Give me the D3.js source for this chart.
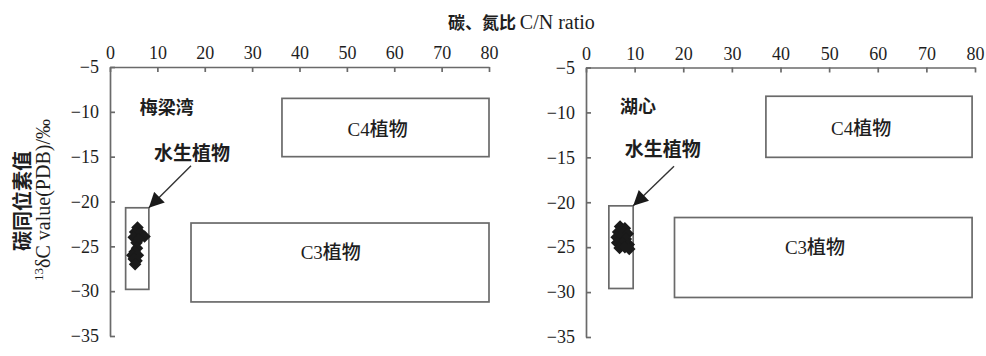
<!DOCTYPE html>
<html>
<head>
<meta charset="utf-8">
<script src="https://cdn.jsdelivr.net/npm/d3@7"></script>
<style>
  html, body { margin: 0; padding: 0; background: #fff; }
  svg { display: block; }
</style>
</head>
<body>
<svg id="chart" width="986" height="356"></svg>
<script>
// ---- data ----
const xTicks = [0, 10, 20, 30, 40, 50, 60, 70, 80];
const yTicks = [-5, -10, -15, -20, -25, -30, -35];
const panelNames = ["梅梁湾", "湖心"];

// source boxes: [C/N min, C/N max, δ13C max, δ13C min]
const c4BoxMeiliang = [36.3, 80, -8.5, -15];
const c3BoxMeiliang = [17.1, 80, -22.4, -31.2];
const aqBoxMeiliang = [3.3, 8.2, -20.7, -29.8];
const c4BoxHuxin = [37, 79.4, -8.2, -15];
const c3BoxHuxin = [18.2, 79.4, -21.7, -30.6];
const aqBoxHuxin = [4.7, 9.7, -20.4, -29.6];

// samples: [C/N, δ13C]
const samplesMeiliang = [
  [5.8, -22.9], [5.3, -23.4], [6.4, -23.5], [7.3, -23.9], [5.0, -24.0],
  [6.1, -24.2], [5.6, -24.6], [5.7, -25.2], [5.2, -25.6], [4.7, -26.0],
  [5.9, -26.0], [5.0, -26.4], [5.6, -26.6], [5.3, -27.0]
];
const samplesHuxin = [
  [7.0, -22.7], [8.0, -22.9], [6.6, -23.3], [7.6, -23.4], [8.6, -23.5],
  [6.3, -23.9], [7.2, -24.0], [8.2, -24.1], [6.4, -24.5], [7.5, -24.6],
  [8.8, -24.7], [6.9, -25.1], [8.0, -25.0], [8.9, -25.2]
];

// ---- layout ----
const panels = [
  {
    name: panelNames[0], x0: 110, x1: 489, y0: 67, y1: 336,
    c4: c4BoxMeiliang, c3: c3BoxMeiliang, aq: aqBoxMeiliang, pts: samplesMeiliang,
    nameAt: [6.3, -9.5], c4At: [56.5, -11.9], c3At: [46.6, -25.7],
    aqLabelAt: [17.3, -14.6], arrowFrom: [17.1, -16.0]
  },
  {
    name: panelNames[1], x0: 586, x1: 975, y0: 67.5, y1: 337,
    c4: c4BoxHuxin, c3: c3BoxHuxin, aq: aqBoxHuxin, pts: samplesHuxin,
    nameAt: [7.0, -9.4], c4At: [56.6, -11.75], c3At: [47.1, -25.0],
    aqLabelAt: [15.8, -14.1], arrowFrom: [18.1, -16.0]
  }
];

const svg = d3.select("#chart");
const lineColor = "#6a6a6a";
const serif = "'Liberation Serif', 'DejaVu Serif', serif";
const cjk = "'Noto Sans CJK SC', sans-serif";

svg.append("defs").append("marker")
  .attr("id", "arrowhead")
  .attr("viewBox", "0 0 10 10")
  .attr("refX", 10).attr("refY", 5)
  .attr("markerWidth", 17).attr("markerHeight", 15)
  .attr("markerUnits", "userSpaceOnUse")
  .attr("orient", "auto")
  .append("path")
  .attr("d", "M0,0 L10,5 L0,10 Z")
  .attr("fill", "#1a1a1a");

const diamond = d3.symbol().type(d3.symbolDiamond2 || d3.symbolSquare).size(100);

panels.forEach(p => {
  const x = d3.scaleLinear().domain([0, 80]).range([p.x0, p.x1]);
  const y = d3.scaleLinear().domain([-5, -35]).range([p.y0, p.y1]);
  const g = svg.append("g");

  // axes: C/N on top, δ13C on the left, ticks pointing inward
  const xAxis = g.append("g")
    .attr("transform", `translate(0,${p.y0})`)
    .call(d3.axisTop(x).tickValues(xTicks).tickSize(-5).tickSizeOuter(0).tickPadding(8));
  const yAxis = g.append("g")
    .attr("transform", `translate(${p.x0},0)`)
    .call(d3.axisLeft(y).tickValues(yTicks).tickSize(-5).tickSizeOuter(0).tickPadding(11));
  [xAxis, yAxis].forEach(a => {
    a.selectAll("path, line").attr("stroke", lineColor).attr("stroke-width", 1.7);
    a.selectAll("text").attr("fill", "#1e1e1e").style("font-family", serif).style("font-size", "18px");
  });

  // source ranges
  [p.c4, p.c3, p.aq].forEach(b => {
    g.append("rect")
      .attr("x", x(b[0])).attr("y", y(b[2]))
      .attr("width", x(b[1]) - x(b[0])).attr("height", y(b[3]) - y(b[2]))
      .attr("fill", "none").attr("stroke", lineColor).attr("stroke-width", 1.7);
  });

  // samples
  g.append("g").selectAll("path").data(p.pts).join("path")
    .attr("transform", d => `translate(${x(d[0])},${y(d[1])})`)
    .attr("d", diamond)
    .attr("fill", "#1a1a1a");

  // labels
  g.append("text")
    .attr("x", x(p.nameAt[0])).attr("y", y(p.nameAt[1]))
    .attr("dy", "0.35em")
    .style("font-family", cjk).style("font-weight", 700).style("font-size", "18px")
    .attr("fill", "#1e1e1e").text(p.name);

  [[p.c4At, "C4"], [p.c3At, "C3"]].forEach(([at, tag]) => {
    const t = g.append("text")
      .attr("x", x(at[0])).attr("y", y(at[1]))
      .attr("dy", "0.35em").attr("text-anchor", "middle").attr("fill", "#1e1e1e")
      .style("font-size", "19px");
    t.append("tspan").style("font-family", serif).text(tag);
    t.append("tspan").style("font-family", cjk).style("font-weight", 500).text("植物");
  });

  g.append("text")
    .attr("x", x(p.aqLabelAt[0])).attr("y", y(p.aqLabelAt[1]))
    .attr("dy", "0.35em").attr("text-anchor", "middle")
    .style("font-family", cjk).style("font-weight", 700).style("font-size", "19px")
    .attr("fill", "#1e1e1e").text("水生植物");

  g.append("line")
    .attr("x1", x(p.arrowFrom[0])).attr("y1", y(p.arrowFrom[1]))
    .attr("x2", x(p.aq[1])).attr("y2", y(p.aq[2]))
    .attr("stroke", "#333").attr("stroke-width", 1.4)
    .attr("marker-end", "url(#arrowhead)");
});

// shared x title
const xt = svg.append("text")
  .attr("x", 448).attr("y", 23).attr("dy", "0.35em").attr("fill", "#1e1e1e");
xt.append("tspan").style("font-family", cjk).style("font-weight", 700).style("font-size", "17px").text("碳、氮比 ");
xt.append("tspan").style("font-family", serif).style("font-size", "20px").text("C/N ratio");

// y title (two lines, rotated)
svg.append("text")
  .attr("transform", "translate(23,201) rotate(-90)")
  .attr("dy", "0.35em").attr("text-anchor", "middle").attr("fill", "#1e1e1e")
  .style("font-family", cjk).style("font-weight", 700).style("font-size", "20px")
  .text("碳同位素值");

const yt2 = svg.append("text")
  .attr("transform", "translate(43,200) rotate(-90)")
  .attr("dy", "0.35em").attr("text-anchor", "middle").attr("fill", "#1e1e1e")
  .style("font-family", serif).style("font-size", "20px");
yt2.append("tspan").attr("baseline-shift", "super").style("font-size", "13px").text("13");
yt2.append("tspan").text("δC value(PDB)/‰");
</script>
</body>
</html>
